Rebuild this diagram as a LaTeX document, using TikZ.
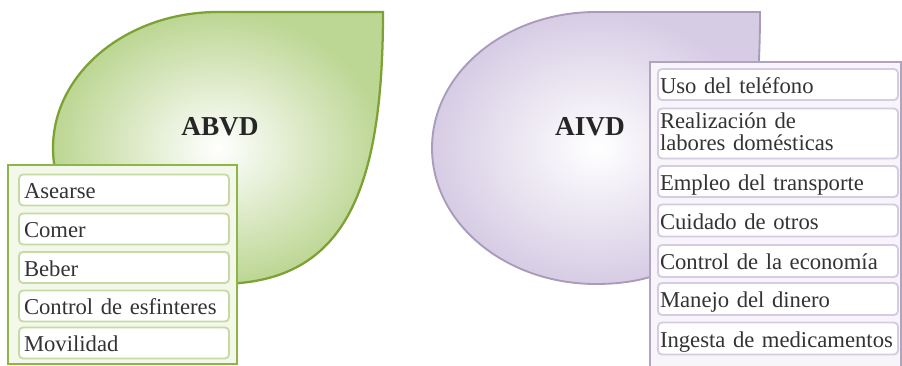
\documentclass[tikz,border=0pt]{standalone}
\usepackage{fontspec}
\setmainfont{Liberation Serif}
\definecolor{gborder}{HTML}{7CA234}
\definecolor{gfill}{HTML}{BCD693}
\definecolor{glist}{HTML}{8DB548}
\definecolor{gitemb}{HTML}{C6DBA4}
\definecolor{glistfill}{HTML}{F3F8EA}
\definecolor{pborder}{HTML}{A99BB9}
\definecolor{pfill}{HTML}{D6CCE4}
\definecolor{plist}{HTML}{B0A4BE}
\definecolor{pitemb}{HTML}{D6CCE2}
\definecolor{plistfill}{HTML}{F7F4FA}
\definecolor{txt}{HTML}{333333}
\tikzset{
  itemfont/.style={font=\fontsize{17}{16.5}\selectfont, text=txt},
  gitem/.style={itemfont, draw=gitemb, fill=white, line width=1.4pt, rounded corners=3pt,
    align=left, text width=150pt, inner xsep=3.75pt, inner ysep=0pt,
    text height=14pt, text depth=1pt, anchor=center},
  pitem/.style={itemfont, draw=pitemb, fill=white, line width=1.4pt, rounded corners=3pt,
    align=left, text width=177pt, inner xsep=1.5pt, inner ysep=0pt,
    text height=14pt, text depth=1pt, anchor=center},
  title/.style={font=\fontsize{20.5}{22}\selectfont\bfseries, text=black!85},
}
\begin{document}
\begin{tikzpicture}[x=0.75pt,y=-0.75pt]
\useasboundingbox (0,0) rectangle (902,366);
\fill[white] (0,0) rectangle (902,366);
% green leaf
\shade[inner color=white, outer color=gfill, draw=gborder, line width=1.7pt]
  (53,148) arc[start angle=180,end angle=270,x radius=165,y radius=136]
  -- (383,12) .. controls (383,200) and (340,284) .. (218,284)
  arc[start angle=90,end angle=180,x radius=165,y radius=136] -- cycle;
\node[title] (abvd) at (220,127) {ABVD};
% purple shape
\shade[inner color=white, outer color=pfill, draw=pborder, line width=1.4pt]
  (432,148) arc[start angle=180,end angle=270,x radius=164,y radius=136]
  -- (760,12) .. controls (760,200) and (718,284) .. (596,284)
  arc[start angle=90,end angle=180,x radius=164,y radius=136] -- cycle;
\node[title] (aivd) at (590,127) {AIVD};
% green list
\draw[glist, fill=glistfill, line width=1.6pt] (8,165) rectangle (237,364);
\node[gitem, minimum height=23.25pt] (g1) at (124,190) {Asearse};
\node[gitem, minimum height=23.25pt] (g2) at (124,229) {Comer};
\node[gitem, minimum height=23.25pt] (g3) at (124,267.5) {Beber};
\node[gitem, minimum height=23.25pt] (g4) at (124,306) {\mbox{Control de esfinteres}};
\node[gitem, minimum height=23.25pt] (g5) at (124,343) {Movilidad};
% purple list
\draw[plist, fill=plistfill, line width=1.6pt] (650,62) rectangle (901,372);
\node[pitem, minimum height=23.25pt] (p1) at (778,84.5) {Uso del teléfono};
\node[pitem, minimum height=37.5pt, text height=8pt, text depth=16.2pt] (p2) at (778,133.5) {Realización de\\labores domésticas};
\node[pitem, minimum height=23.25pt] (p3) at (778,181.5) {\mbox{Empleo del transporte}};
\node[pitem, minimum height=24pt] (p4) at (778,220.5) {Cuidado de otros};
\node[pitem, minimum height=24pt] (p5) at (778,261) {\mbox{Control de la economía}};
\node[pitem, minimum height=24pt] (p6) at (778,299) {Manejo del dinero};
\node[pitem, minimum height=24pt] (p7) at (778,338.5) {\mbox{Ingesta de medicamentos}};
\end{tikzpicture}
\end{document}
